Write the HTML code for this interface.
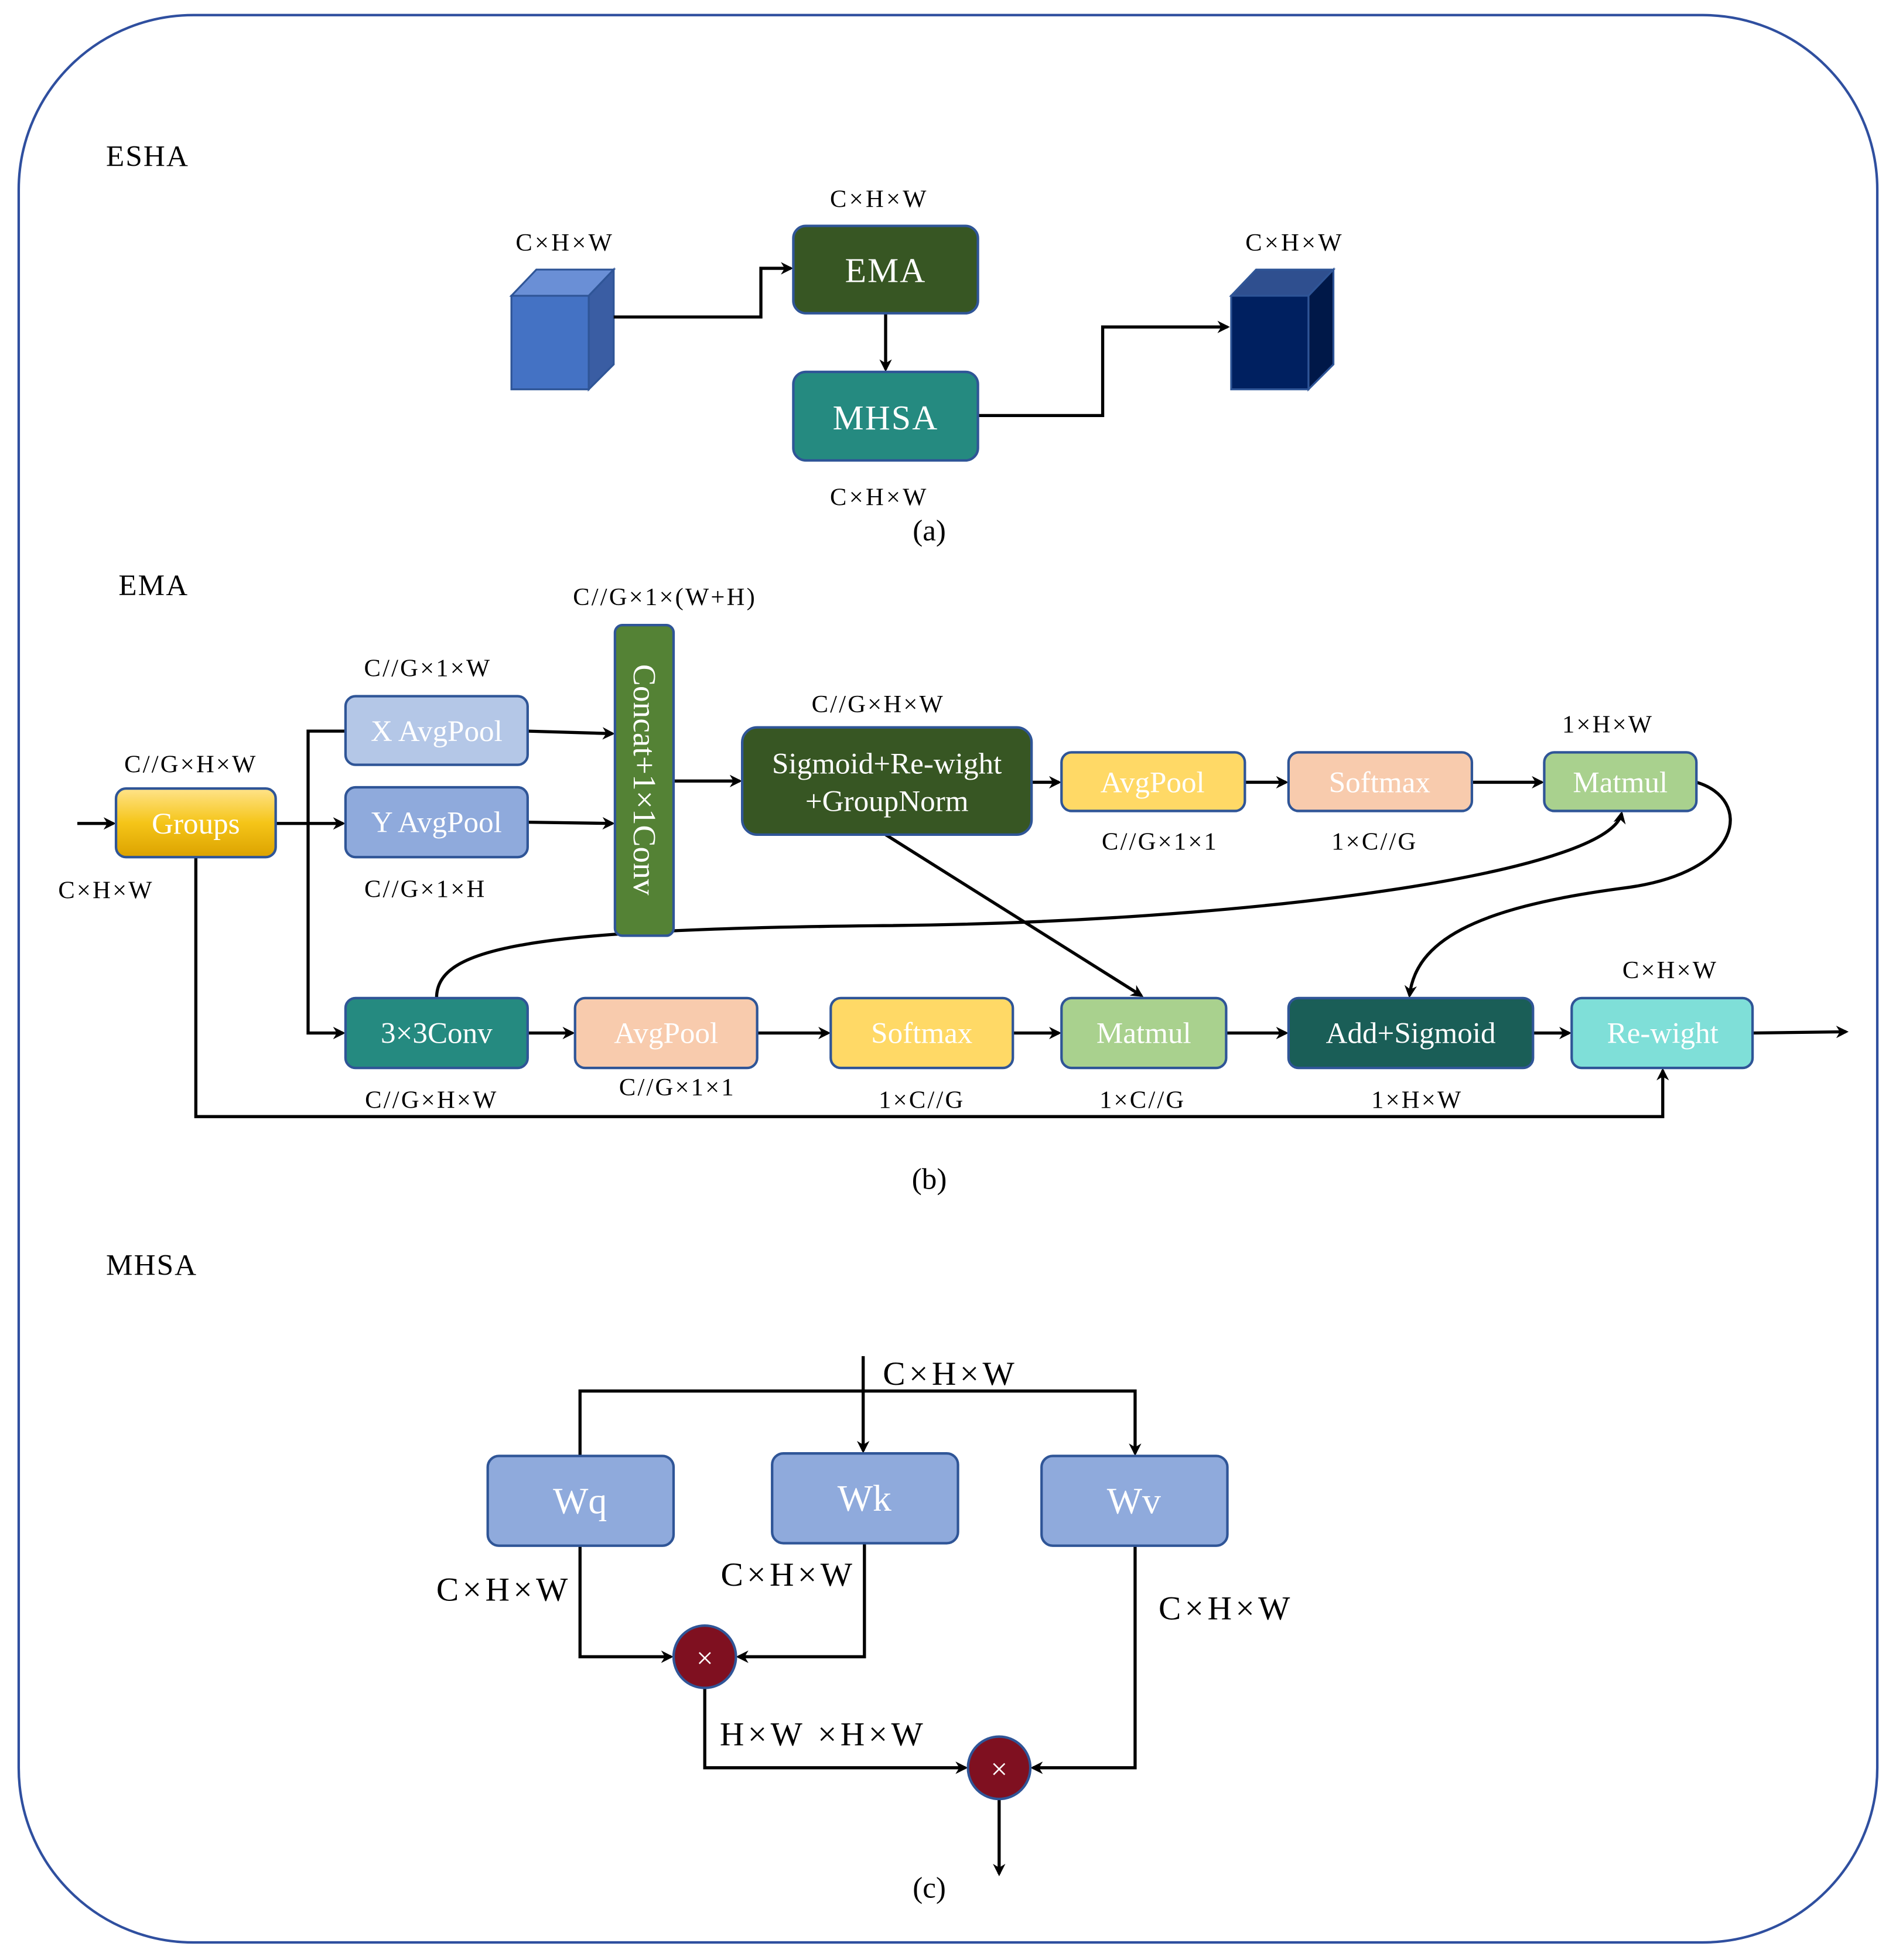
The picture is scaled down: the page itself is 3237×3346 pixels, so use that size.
<!DOCTYPE html>
<html><head><meta charset="utf-8"><style>
html,body{margin:0;padding:0;background:#fff;}
svg{display:block;}
text{font-family:"Liberation Serif",serif;}
</style></head><body>
<svg width="3237" height="3346" viewBox="0 0 1520 1571" xmlns="http://www.w3.org/2000/svg">
<defs>
<marker id="a" markerWidth="10" markerHeight="10" refX="8" refY="5" orient="auto" markerUnits="userSpaceOnUse"><path d="M0,0 L10,5 L0,10 L3,5 Z" fill="#000"/></marker>
<linearGradient id="gy" x1="0" y1="0" x2="0" y2="1"><stop offset="0" stop-color="#ffe38a"/><stop offset="0.5" stop-color="#f5c518"/><stop offset="1" stop-color="#dca200"/></linearGradient>
</defs>
<rect x="15" y="12" width="1490" height="1545" rx="140" fill="#fff" stroke="#2f4f9f" stroke-width="2"/>

<g font-size="24" fill="#000">
<text x="85" y="133" letter-spacing="1">ESHA</text>
<text x="95" y="477" letter-spacing="1">EMA</text>
<text x="85" y="1022" letter-spacing="1">MHSA</text>
</g>

<!-- (a) -->
<g stroke="#2f5597" stroke-width="1.5">
<polygon points="410,237 472,237 472,312 410,312" fill="#4472c4"/>
<polygon points="410,237 430,216 492,216 472,237" fill="#6a8fd6"/>
<polygon points="472,237 492,216 492,292 472,312" fill="#3a5da3"/>
<polygon points="987,237 1049,237 1049,312 987,312" fill="#002060"/>
<polygon points="987,237 1007,216 1069,216 1049,237" fill="#2f4f8f"/>
<polygon points="1049,237 1069,216 1069,292 1049,312" fill="#001848"/>
</g>
<g font-size="20" text-anchor="middle" fill="#000" letter-spacing="2">
<text x="453" y="201">C×H×W</text>
<text x="705" y="166">C×H×W</text>
<text x="705" y="405">C×H×W</text>
<text x="1038" y="201">C×H×W</text>
<text x="745" y="433" font-size="24" letter-spacing="0">(a)</text>
</g>
<g fill="none" stroke="#000" stroke-width="2.5">
<polyline points="492,254 610,254 610,215 634,215" marker-end="url(#a)"/>
<line x1="710" y1="251" x2="710" y2="296" marker-end="url(#a)"/>
<polyline points="784,333 884,333 884,262 984,262" marker-end="url(#a)"/>
</g>
<rect x="636" y="181" width="148" height="70" rx="10" fill="#375623" stroke="#2f5597" stroke-width="2"/>
<rect x="636" y="298" width="148" height="71" rx="10" fill="#258a80" stroke="#2f5597" stroke-width="2"/>
<g font-size="28" text-anchor="middle" fill="#fff" letter-spacing="1">
<text x="710" y="226">EMA</text>
<text x="710" y="344">MHSA</text>
</g>

<!-- (b) -->
<g fill="none" stroke="#000" stroke-width="2.5">
<line x1="62" y1="660" x2="91" y2="660" marker-end="url(#a)"/>
<line x1="221" y1="660" x2="275" y2="660" marker-end="url(#a)"/>
<polyline points="277,586 247,586 247,828 275,828" marker-end="url(#a)"/>
<line x1="423" y1="586" x2="491" y2="588" marker-end="url(#a)"/>
<line x1="423" y1="659" x2="491" y2="660" marker-end="url(#a)"/>
<line x1="540" y1="626" x2="593" y2="626" marker-end="url(#a)"/>
<line x1="827" y1="627" x2="849" y2="627" marker-end="url(#a)"/>
<line x1="998" y1="627" x2="1031" y2="627" marker-end="url(#a)"/>
<line x1="1180" y1="627" x2="1236" y2="627" marker-end="url(#a)"/>
<path d="M1360,627 C1405,640 1400,700 1300,712 C1180,728 1135,755 1130,798" marker-end="url(#a)"/>
<path d="M350,800 C350,760 420,745 700,742 C1000,740 1290,700 1300,652" marker-end="url(#a)"/>
<line x1="710" y1="669" x2="915" y2="798" marker-end="url(#a)"/>
<line x1="423" y1="828" x2="459" y2="828" marker-end="url(#a)"/>
<line x1="607" y1="828" x2="664" y2="828" marker-end="url(#a)"/>
<line x1="812" y1="828" x2="849" y2="828" marker-end="url(#a)"/>
<line x1="983" y1="828" x2="1031" y2="828" marker-end="url(#a)"/>
<line x1="1229" y1="828" x2="1258" y2="828" marker-end="url(#a)"/>
<line x1="1405" y1="828" x2="1480" y2="827" marker-end="url(#a)"/>
<polyline points="157,687 157,895 1333,895 1333,858" marker-end="url(#a)"/>
</g>
<g stroke="#2f5597" stroke-width="2">
<rect x="93" y="632" width="128" height="55" rx="8" fill="url(#gy)"/>
<rect x="277" y="558" width="146" height="55" rx="8" fill="#b4c7e7"/>
<rect x="277" y="631" width="146" height="56" rx="8" fill="#8faadc"/>
<rect x="493" y="501" width="47" height="249" rx="6" fill="#548235"/>
<rect x="595" y="583" width="232" height="86" rx="12" fill="#375623"/>
<rect x="851" y="603" width="147" height="47" rx="8" fill="#ffd966"/>
<rect x="1033" y="603" width="147" height="47" rx="8" fill="#f8cbad"/>
<rect x="1238" y="603" width="122" height="47" rx="8" fill="#a9d18e"/>
<rect x="277" y="800" width="146" height="56" rx="8" fill="#258a80"/>
<rect x="461" y="800" width="146" height="56" rx="8" fill="#f8cbad"/>
<rect x="666" y="800" width="146" height="56" rx="8" fill="#ffd966"/>
<rect x="851" y="800" width="132" height="56" rx="8" fill="#a9d18e"/>
<rect x="1033" y="800" width="196" height="56" rx="8" fill="#1a5e57"/>
<rect x="1260" y="800" width="145" height="56" rx="8" fill="#7fdfd8"/>
</g>
<g font-size="24" text-anchor="middle" fill="#fff">
<text x="157" y="668">Groups</text>
<text x="350" y="594">X AvgPool</text>
<text x="350" y="667">Y AvgPool</text>
<text transform="translate(508,625) rotate(90)" font-size="26">Concat+1×1Conv</text>
<text x="711" y="620">Sigmoid+Re-wight</text>
<text x="711" y="650">+GroupNorm</text>
<text x="924" y="635">AvgPool</text>
<text x="1106" y="635">Softmax</text>
<text x="1299" y="635">Matmul</text>
<text x="350" y="836">3×3Conv</text>
<text x="534" y="836">AvgPool</text>
<text x="739" y="836">Softmax</text>
<text x="917" y="836">Matmul</text>
<text x="1131" y="836">Add+Sigmoid</text>
<text x="1333" y="836">Re-wight</text>
</g>
<g font-size="20" text-anchor="middle" fill="#000" letter-spacing="1.5">
<text x="533" y="485">C//G×1×(W+H)</text>
<text x="343" y="542">C//G×1×W</text>
<text x="153" y="619">C//G×H×W</text>
<text x="85" y="720">C×H×W</text>
<text x="341" y="719">C//G×1×H</text>
<text x="704" y="571">C//G×H×W</text>
<text x="930" y="681">C//G×1×1</text>
<text x="1102" y="681">1×C//G</text>
<text x="1289" y="587">1×H×W</text>
<text x="346" y="888">C//G×H×W</text>
<text x="543" y="878">C//G×1×1</text>
<text x="739" y="888">1×C//G</text>
<text x="916" y="888">1×C//G</text>
<text x="1136" y="888">1×H×W</text>
<text x="1339" y="784">C×H×W</text>
<text x="745" y="953" font-size="24" letter-spacing="0">(b)</text>
</g>

<!-- (c) -->
<g fill="none" stroke="#000" stroke-width="2.5">
<line x1="692" y1="1087" x2="692" y2="1163" marker-end="url(#a)"/>
<polyline points="465,1167 465,1115 910,1115 910,1165" marker-end="url(#a)"/>
<polyline points="465,1239 465,1328 538,1328" marker-end="url(#a)"/>
<polyline points="693,1237 693,1328 592,1328" marker-end="url(#a)"/>
<polyline points="565,1353 565,1417 774,1417" marker-end="url(#a)"/>
<polyline points="910,1239 910,1417 828,1417" marker-end="url(#a)"/>
<line x1="801" y1="1442" x2="801" y2="1502" marker-end="url(#a)"/>
</g>
<g stroke="#2f5597" stroke-width="2" fill="#8faadc">
<rect x="391" y="1167" width="149" height="72" rx="9"/>
<rect x="619" y="1165" width="149" height="72" rx="9"/>
<rect x="835" y="1167" width="149" height="72" rx="9"/>
</g>
<g stroke="#2f5597" stroke-width="2" fill="#7f1020">
<circle cx="565" cy="1328" r="25"/>
<circle cx="801" cy="1417" r="25"/>
</g>
<g font-size="30" text-anchor="middle" fill="#fff">
<text x="465" y="1213">Wq</text>
<text x="693" y="1211">Wk</text>
<text x="909" y="1213">Wv</text>
<text x="565" y="1337" font-size="24">×</text>
<text x="801" y="1426" font-size="24">×</text>
</g>
<g font-size="27" text-anchor="middle" fill="#000" letter-spacing="3">
<text x="762" y="1110">C×H×W</text>
<text x="404" y="1283">C×H×W</text>
<text x="632" y="1271">C×H×W</text>
<text x="983" y="1298">C×H×W</text>
<text x="660" y="1399">H×W ×H×W</text>
<text x="745" y="1521" font-size="24" letter-spacing="0">(c)</text>
</g>
</svg>
</body></html>
